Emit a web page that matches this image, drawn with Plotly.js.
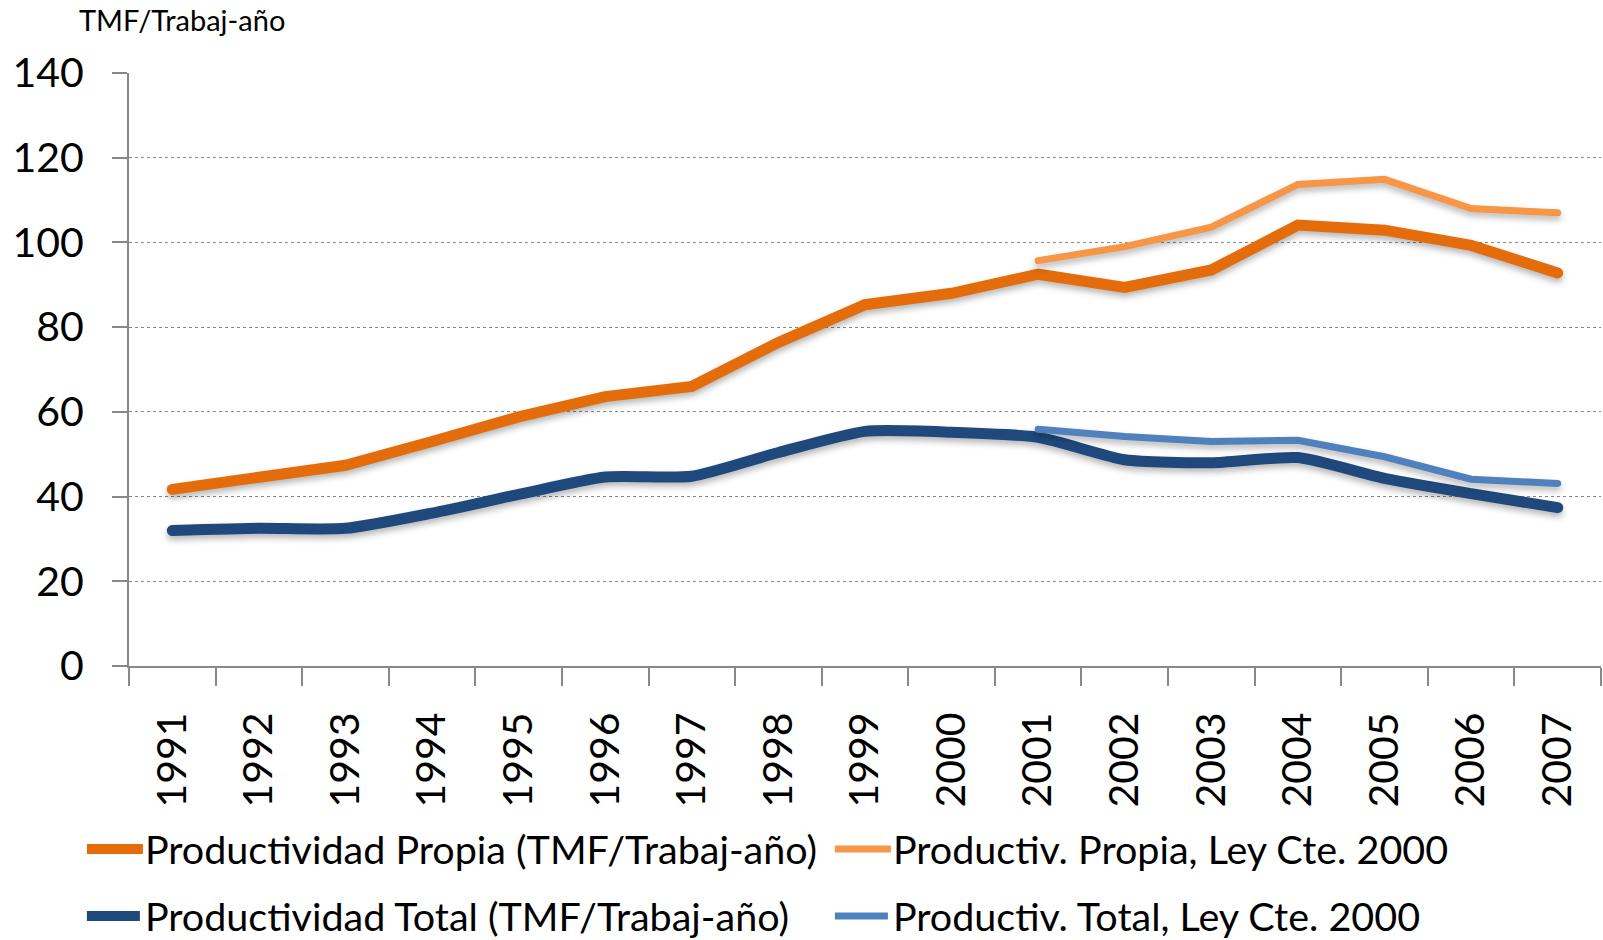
<!DOCTYPE html>
<html>
<head>
<meta charset="utf-8">
<script src="https://cdn.plot.ly/plotly-3.0.1.min.js"></script>
<style>
html,body{margin:0;padding:0;background:#fff;}
#chart{width:1603px;height:940px;}
#chart .scatterlayer .trace path.js-line{filter:drop-shadow(0px 4px 3px rgba(0,0,0,0.28));stroke-linecap:round;}
</style>
</head>
<body>
<div id="chart"></div>
<script>
const years = ['1991','1992','1993','1994','1995','1996','1997','1998','1999','2000','2001','2002','2003','2004','2005','2006','2007'];
const propia = [41.7,44.5,47.4,53.0,58.8,63.6,66.0,76.4,85.3,88.0,92.5,89.4,93.5,104.1,102.9,99.3,92.8];
const propiaLey = [null,null,null,null,null,null,null,null,null,null,95.7,99.0,103.6,113.7,114.9,108.0,107.0];
const total = [32.0,32.5,32.5,36.1,40.5,44.6,44.8,50.4,55.4,55.2,54.0,48.7,48.0,49.2,44.3,40.7,37.4];
const totalLey = [null,null,null,null,null,null,null,null,null,null,55.9,54.2,53.0,53.3,49.4,44.1,43.1];
const names = ['Productividad Propia (TMF/Trabaj-año)','Productiv. Propia, Ley Cte. 2000','Productividad Total (TMF/Trabaj-año)','Productiv. Total, Ley Cte. 2000'];
const unitLabel = 'TMF/Trabaj-año';

const FONT = 'Lato, "Open Sans", sans-serif';
const traces = [
  {x: years, y: propia, name: names[0], type:'scatter', mode:'lines', legend:'legend', line:{color:'#E46C0A', width:11}},
  {x: years, y: propiaLey, name: names[1], type:'scatter', mode:'lines', legend:'legend', line:{color:'#F79646', width:7}},
  {x: years, y: total, name: names[2], type:'scatter', mode:'lines', legend:'legend2', line:{color:'#1F497D', width:11, shape:'spline', smoothing:0.6}},
  {x: years, y: totalLey, name: names[3], type:'scatter', mode:'lines', legend:'legend2', line:{color:'#4F81BD', width:7}}
];
const legendCommon = {orientation:'h', xref:'paper', yref:'paper', x:-0.032, xanchor:'left', yanchor:'middle',
  font:{size:39.5, family:FONT}, itemwidth:53, entrywidth:680, entrywidthmode:'pixels', traceorder:'normal', bgcolor:'rgba(0,0,0,0)'};
const layout = {
  width:1603, height:940,
  margin:{l:129, r:2, t:73, b:273.5, autoexpand:false},
  paper_bgcolor:'#fff', plot_bgcolor:'#fff',
  font:{family:FONT, color:'#000'},
  showlegend:true,
  legend: Object.assign({}, legendCommon, {y:-0.309}),
  legend2: Object.assign({}, legendCommon, {y:-0.422}),
  xaxis:{type:'category', range:[-0.5,16.5], showgrid:false, showline:true, linecolor:'#888', linewidth:2,
         ticks:'outside', ticklen:18, tickcolor:'#888', tickwidth:2, tickson:'boundaries', ticklabelstandoff:28,
         tickangle:-90, tickfont:{size:41, family:FONT}, zeroline:false, automargin:false},
  yaxis:{range:[0,140], dtick:20, showgrid:true, gridcolor:'#888', griddash:'dot', gridwidth:1.2,
         showline:true, linecolor:'#888', linewidth:2, ticks:'outside', ticklen:15, tickcolor:'#888', tickwidth:2,
         ticklabelstandoff:20, tickfont:{size:41, family:FONT}, zeroline:false, automargin:false},
  annotations:[{text:unitLabel, xref:'paper', yref:'paper', x:-0.035, y:1.091, xanchor:'left', yanchor:'middle', showarrow:false, font:{size:29, family:FONT}}]
};
Plotly.newPlot('chart', traces, layout, {displayModeBar:false}).then(function(gd){
  // lengthen the legend line swatches to match the original's long key lines
  gd.querySelectorAll('.legend .legendlines path').forEach(function(p){ p.setAttribute('d','M5,0h56'); });
});
</script>
</body>
</html>
